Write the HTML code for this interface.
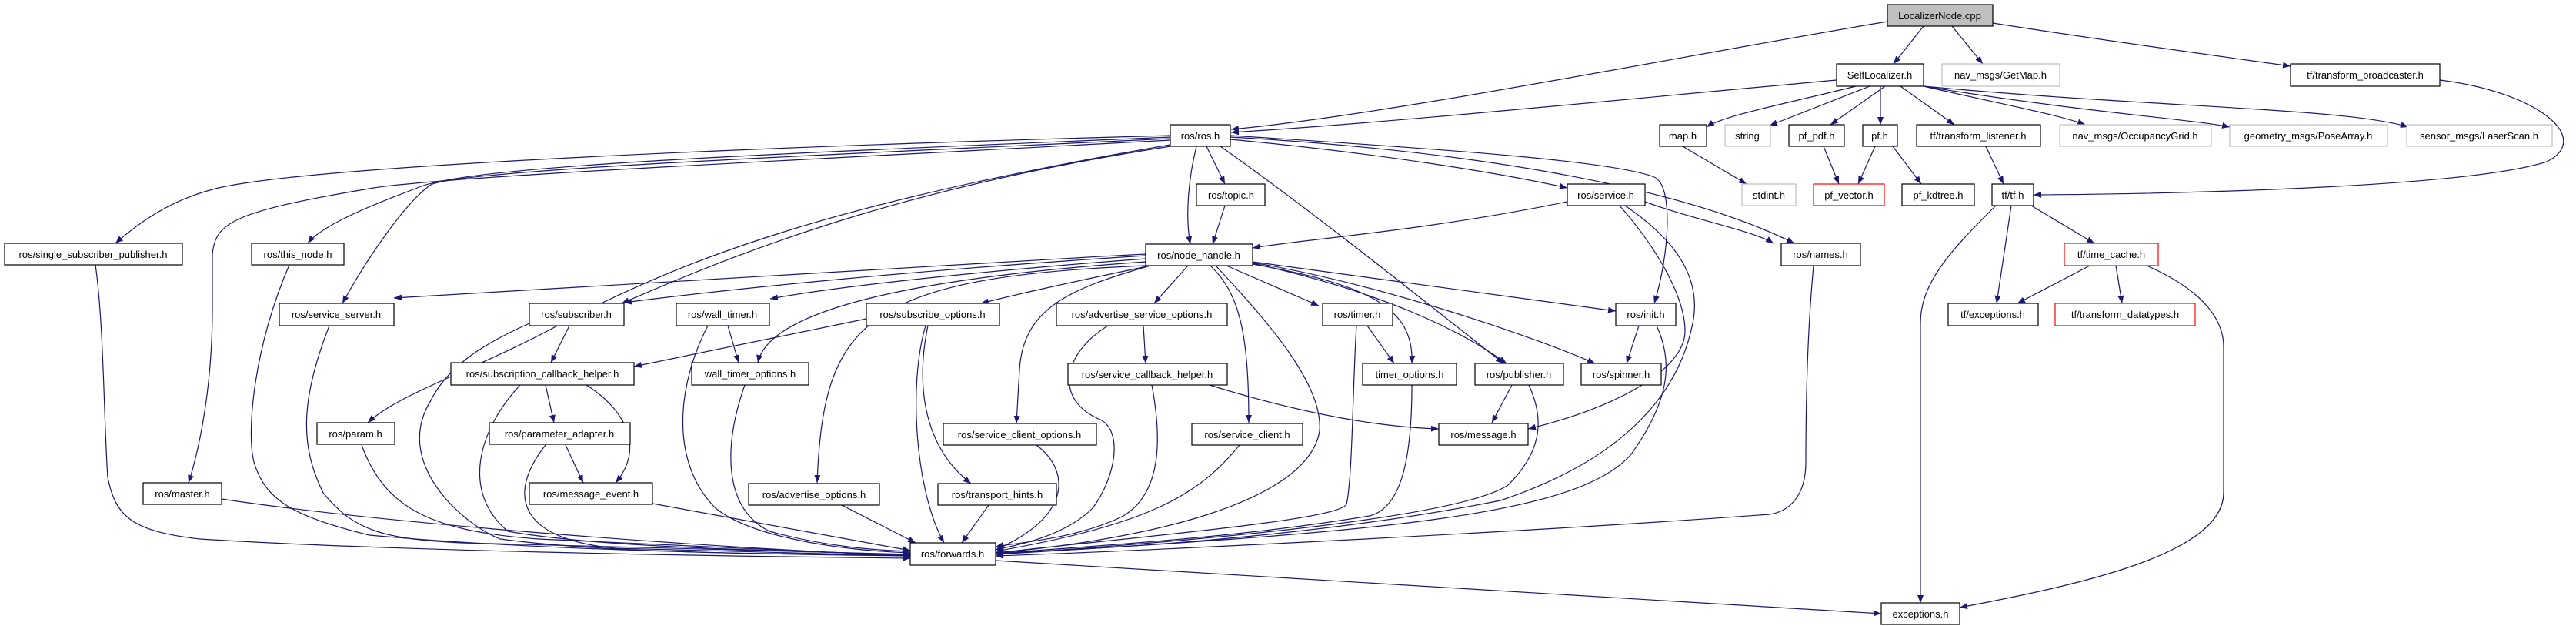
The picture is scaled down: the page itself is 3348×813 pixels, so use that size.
<!DOCTYPE html>
<html><head><meta charset="utf-8"><style>
html,body{margin:0;padding:0;background:#fff;}
svg{display:block;}
text{font-family:"Liberation Sans",sans-serif;font-size:13px;text-anchor:middle;fill:#000;}
.e{fill:none;stroke:#191970;stroke-width:1.2;marker-end:url(#a);}
.n{fill:#fff;stroke:#000;stroke-width:1.2;}
.g{fill:#fff;stroke:#bfbfbf;stroke-width:1.2;}
.r{fill:#fff;stroke:#ff0000;stroke-width:1.2;}
</style></head><body>
<svg width="3348" height="813" viewBox="0 0 3348 813" xmlns="http://www.w3.org/2000/svg">
<defs><marker id="a" markerWidth="10" markerHeight="8" refX="10" refY="4" orient="auto" markerUnits="userSpaceOnUse"><path d="M0,0 L10,4 L0,8z" fill="#191970"/></marker></defs>
<g>
<path class="e" d="M2453,28 C2200,70 1800,150 1600,168"/>
<path class="e" d="M2500,34 L2461,83"/>
<path class="e" d="M2537,34 L2577,83"/>
<path class="e" d="M2590,30 C2750,55 2900,75 2977,86"/>
<path class="e" d="M2387,104 C2100,130 1800,160 1600,172"/>
<path class="e" d="M2412,112 C2320,135 2240,150 2218,165"/>
<path class="e" d="M2430,112 L2300,163"/>
<path class="e" d="M2450,112 L2379,162"/>
<path class="e" d="M2444,112 L2444,162"/>
<path class="e" d="M2470,112 L2540,162"/>
<path class="e" d="M2500,112 C2600,135 2680,150 2710,162"/>
<path class="e" d="M2500,112 C2700,145 2850,155 2898,165"/>
<path class="e" d="M2500,112 C2800,140 3050,140 3130,165"/>
<path class="e" d="M3171,104 C3300,120 3370,180 3310,210 C3200,245 2800,252 2643,253"/>
<path class="e" d="M2187,190 L2270,239"/>
<path class="e" d="M2370,190 L2390,239"/>
<path class="e" d="M2437,190 L2415,239"/>
<path class="e" d="M2460,190 L2497,239"/>
<path class="e" d="M2581,190 L2604,239"/>
<path class="e" d="M2614,267 L2595,394"/>
<path class="e" d="M2640,267 L2722,316"/>
<path class="e" d="M2594,267 C2530,330 2496,370 2496,420 L2496,783"/>
<path class="e" d="M2716,345 L2622,394"/>
<path class="e" d="M2750,345 L2758,394"/>
<path class="e" d="M2790,345 C2870,380 2890,420 2890,450 L2890,640 C2890,720 2700,760 2547,789"/>
<path class="e" d="M1521,176 C1000,190 400,215 280,245 C220,260 180,290 150,316"/>
<path class="e" d="M1521,178 C1000,200 600,215 540,245 C500,260 420,290 400,316"/>
<path class="e" d="M1521,180 C1100,200 600,220 560,240 C530,260 480,330 445,394"/>
<path class="e" d="M1521,182 C1000,210 560,230 480,245 C300,275 280,290 276,330 L276,400 C276,500 260,580 245,627"/>
<path class="e" d="M1521,188 C1100,260 900,330 730,420 C620,480 520,510 478,549"/>
<path class="e" d="M1521,190 C1200,240 1000,310 808,394"/>
<path class="e" d="M1568,190 L1592,239"/>
<path class="e" d="M1555,190 C1545,230 1540,280 1547,317"/>
<path class="e" d="M1599,181 C1800,200 1950,225 2037,244"/>
<path class="e" d="M1586,190 C1700,270 1850,390 1954,472"/>
<path class="e" d="M1599,176 C1900,195 2100,210 2150,230 C2175,240 2170,330 2150,394"/>
<path class="e" d="M1599,178 C1900,195 2180,240 2332,316"/>
<path class="e" d="M1592,267 L1576,317"/>
<path class="e" d="M2037,262 C1850,300 1700,310 1628,322"/>
<path class="e" d="M2138,262 C2200,285 2280,300 2305,316"/>
<path class="e" d="M2112,267 C2190,320 2210,370 2200,420 C2180,520 2100,600 1950,650 C1700,700 1400,715 1294,718"/>
<path class="e" d="M2105,267 C2160,330 2190,390 2190,430 C2190,480 2100,530 1986,557"/>
<path class="e" d="M2130,423 L2114,472"/>
<path class="e" d="M2153,423 C2175,470 2170,520 2120,590 C2050,670 1800,690 1294,720"/>
<path class="e" d="M1489,330 C1100,350 700,375 512,387"/>
<path class="e" d="M1489,332 C1200,350 950,375 811,393"/>
<path class="e" d="M1489,336 C1300,350 1100,370 1001,388"/>
<path class="e" d="M1489,340 C1200,360 1000,400 985,471"/>
<path class="e" d="M1495,345 C1400,365 1330,380 1275,394"/>
<path class="e" d="M1544,345 L1500,394"/>
<path class="e" d="M1489,345 C1120,360 1070,420 1062,627"/>
<path class="e" d="M1495,345 C1390,375 1330,400 1325,480 L1321,550"/>
<path class="e" d="M1573,345 C1610,380 1623,430 1623,549"/>
<path class="e" d="M1580,345 C1650,420 1720,500 1715,560 C1700,650 1500,700 1294,718"/>
<path class="e" d="M1594,345 L1714,397"/>
<path class="e" d="M1628,343 C1780,370 1838,400 1835,472"/>
<path class="e" d="M1628,342 C1800,380 1900,430 1958,472"/>
<path class="e" d="M1628,341 C1800,370 2000,440 2073,472"/>
<path class="e" d="M1628,340 L2100,404"/>
<path class="e" d="M740,423 L716,471"/>
<path class="e" d="M688,420 C620,450 580,480 560,520 C510,600 600,680 650,700 C800,720 1050,720 1183,720"/>
<path class="e" d="M946,423 L960,471"/>
<path class="e" d="M920,423 C880,500 870,600 930,660 C980,700 1100,715 1183,718"/>
<path class="e" d="M709,500 L720,549"/>
<path class="e" d="M762,500 C810,530 840,580 800,627"/>
<path class="e" d="M676,500 C620,560 600,640 660,690 C800,715 1100,716 1183,721"/>
<path class="e" d="M735,578 L758,627"/>
<path class="e" d="M709,578 C660,640 670,700 800,712 L1183,722"/>
<path class="e" d="M848,654 L1183,715"/>
<path class="e" d="M470,578 C500,660 560,690 700,700 L1183,722"/>
<path class="e" d="M288,648 C500,680 900,710 1183,722"/>
<path class="e" d="M124,344 C135,420 135,550 140,620 C150,670 170,690 260,700 C500,715 900,722 1183,725"/>
<path class="e" d="M376,344 C330,450 320,560 330,600 C345,650 380,670 480,695 C700,715 1000,720 1183,722"/>
<path class="e" d="M428,423 C390,520 390,580 420,640 C460,690 500,700 600,705 L1183,720"/>
<path class="e" d="M968,500 C940,580 940,660 1000,690 C1080,712 1150,715 1183,716"/>
<path class="e" d="M1094,656 L1190,705"/>
<path class="e" d="M1126,414 C1000,440 900,460 824,476"/>
<path class="e" d="M1206,423 C1190,500 1200,580 1262,628"/>
<path class="e" d="M1203,423 C1180,500 1190,640 1227,705"/>
<path class="e" d="M1486,423 L1489,472"/>
<path class="e" d="M1440,423 C1380,460 1370,520 1430,545 C1460,560 1450,620 1420,660 C1380,700 1310,710 1294,714"/>
<path class="e" d="M1572,500 C1700,540 1800,555 1870,557"/>
<path class="e" d="M1497,500 C1510,570 1510,640 1460,670 C1400,700 1320,705 1294,710"/>
<path class="e" d="M1347,578 C1390,610 1395,670 1294,714"/>
<path class="e" d="M1285,656 L1250,705"/>
<path class="e" d="M1611,578 C1560,640 1500,680 1294,716"/>
<path class="e" d="M1777,423 L1812,472"/>
<path class="e" d="M1763,423 C1758,500 1758,620 1750,655 C1740,675 1500,695 1294,718"/>
<path class="e" d="M1835,500 C1835,600 1820,660 1780,670 C1600,700 1400,710 1294,719"/>
<path class="e" d="M1965,500 L1939,549"/>
<path class="e" d="M1987,500 C2010,550 2000,590 1960,630 C1900,670 1600,700 1294,720"/>
<path class="e" d="M2357,345 C2350,420 2347,500 2347,600 C2347,650 2320,665 2300,668 C2000,690 1500,715 1294,722"/>
<path class="e" d="M1294,728 L2445,797"/>
</g>
<g>
<rect x="2453" y="6" width="137" height="28" fill="#bfbfbf" stroke="#000" stroke-width="1.2"/><text x="2521" y="25">LocalizerNode.cpp</text>
<rect class="n" x="2387" y="83" width="113" height="29"/><text x="2443" y="102">SelfLocalizer.h</text>
<rect class="g" x="2524" y="83" width="153" height="29"/><text x="2600" y="102">nav_msgs/GetMap.h</text>
<rect class="n" x="2977" y="83" width="194" height="29"/><text x="3074" y="102">tf/transform_broadcaster.h</text>
<rect class="n" x="1521" y="162" width="78" height="28"/><text x="1560" y="181">ros/ros.h</text>
<rect class="n" x="2157" y="162" width="61" height="28"/><text x="2187" y="181">map.h</text>
<rect class="g" x="2242" y="162" width="59" height="28"/><text x="2271" y="181">string</text>
<rect class="n" x="2325" y="162" width="72" height="28"/><text x="2361" y="181">pf_pdf.h</text>
<rect class="n" x="2421" y="162" width="45" height="28"/><text x="2443" y="181">pf.h</text>
<rect class="n" x="2491" y="162" width="161" height="28"/><text x="2571" y="181">tf/transform_listener.h</text>
<rect class="g" x="2677" y="162" width="197" height="28"/><text x="2775" y="181">nav_msgs/OccupancyGrid.h</text>
<rect class="g" x="2898" y="162" width="205" height="28"/><text x="3000" y="181">geometry_msgs/PoseArray.h</text>
<rect class="g" x="3128" y="162" width="189" height="28"/><text x="3222" y="181">sensor_msgs/LaserScan.h</text>
<rect class="n" x="1555" y="239" width="89" height="28"/><text x="1600" y="258">ros/topic.h</text>
<rect class="n" x="2037" y="239" width="101" height="28"/><text x="2087" y="258">ros/service.h</text>
<rect class="g" x="2264" y="239" width="70" height="28"/><text x="2299" y="258">stdint.h</text>
<rect class="r" x="2357" y="239" width="92" height="28"/><text x="2403" y="258">pf_vector.h</text>
<rect class="n" x="2472" y="239" width="94" height="28"/><text x="2519" y="258">pf_kdtree.h</text>
<rect class="n" x="2589" y="239" width="54" height="28"/><text x="2616" y="258">tf/tf.h</text>
<rect class="n" x="1489" y="317" width="139" height="28"/><text x="1558" y="336">ros/node_handle.h</text>
<rect class="n" x="6" y="316" width="231" height="28"/><text x="121" y="335">ros/single_subscriber_publisher.h</text>
<rect class="n" x="327" y="316" width="120" height="28"/><text x="387" y="335">ros/this_node.h</text>
<rect class="n" x="2315" y="316" width="103" height="29"/><text x="2366" y="335">ros/names.h</text>
<rect class="r" x="2683" y="316" width="122" height="29"/><text x="2744" y="335">tf/time_cache.h</text>
<rect class="n" x="363" y="394" width="149" height="29"/><text x="437" y="413">ros/service_server.h</text>
<rect class="n" x="688" y="394" width="123" height="29"/><text x="749" y="413">ros/subscriber.h</text>
<rect class="n" x="879" y="394" width="121" height="29"/><text x="939" y="413">ros/wall_timer.h</text>
<rect class="n" x="1126" y="394" width="173" height="29"/><text x="1212" y="413">ros/subscribe_options.h</text>
<rect class="n" x="1373" y="394" width="222" height="29"/><text x="1484" y="413">ros/advertise_service_options.h</text>
<rect class="n" x="1719" y="394" width="91" height="29"/><text x="1764" y="413">ros/timer.h</text>
<rect class="n" x="2100" y="394" width="78" height="29"/><text x="2139" y="413">ros/init.h</text>
<rect class="n" x="2532" y="394" width="117" height="29"/><text x="2590" y="413">tf/exceptions.h</text>
<rect class="r" x="2671" y="394" width="182" height="29"/><text x="2762" y="413">tf/transform_datatypes.h</text>
<rect class="n" x="586" y="471" width="238" height="29"/><text x="705" y="490">ros/subscription_callback_helper.h</text>
<rect class="n" x="899" y="471" width="152" height="29"/><text x="975" y="490">wall_timer_options.h</text>
<rect class="n" x="1388" y="472" width="207" height="28"/><text x="1491" y="491">ros/service_callback_helper.h</text>
<rect class="n" x="1771" y="472" width="122" height="28"/><text x="1832" y="491">timer_options.h</text>
<rect class="n" x="1917" y="472" width="115" height="28"/><text x="1974" y="491">ros/publisher.h</text>
<rect class="n" x="2055" y="472" width="104" height="28"/><text x="2107" y="491">ros/spinner.h</text>
<rect class="n" x="412" y="549" width="101" height="28"/><text x="462" y="568">ros/param.h</text>
<rect class="n" x="636" y="549" width="183" height="28"/><text x="727" y="568">ros/parameter_adapter.h</text>
<rect class="n" x="1226" y="550" width="199" height="28"/><text x="1325" y="569">ros/service_client_options.h</text>
<rect class="n" x="1549" y="550" width="144" height="28"/><text x="1621" y="569">ros/service_client.h</text>
<rect class="n" x="1870" y="550" width="116" height="28"/><text x="1928" y="569">ros/message.h</text>
<rect class="n" x="186" y="627" width="102" height="28"/><text x="237" y="646">ros/master.h</text>
<rect class="n" x="688" y="627" width="160" height="28"/><text x="768" y="646">ros/message_event.h</text>
<rect class="n" x="973" y="628" width="170" height="28"/><text x="1058" y="647">ros/advertise_options.h</text>
<rect class="n" x="1219" y="628" width="154" height="28"/><text x="1296" y="647">ros/transport_hints.h</text>
<rect class="n" x="1183" y="705" width="111" height="29"/><text x="1238" y="724">ros/forwards.h</text>
<rect class="n" x="2445" y="783" width="102" height="28"/><text x="2496" y="802">exceptions.h</text>
</g>
</svg>
</body></html>
